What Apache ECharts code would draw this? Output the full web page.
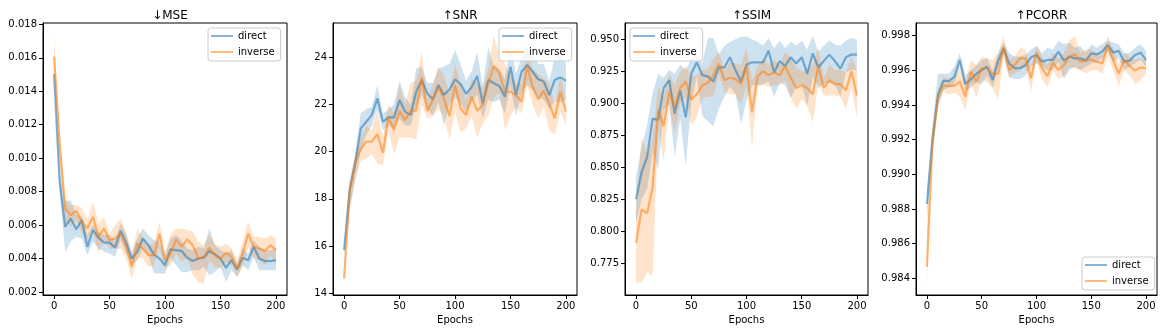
<!DOCTYPE html>
<html>
<head>
<meta charset="utf-8">
<script src="https://cdn.jsdelivr.net/npm/echarts@6/dist/echarts.min.js"></script>
<style>
  body { margin: 0; background: #fff; }
  #chart { width: 1166px; height: 333px; }
</style>
</head>
<body>
<div id="chart"></div>
<script>
const epochs = [0, 5, 10, 15, 20, 25, 30, 35, 40, 45, 50, 55, 60, 65, 70, 75, 80, 85, 90, 95, 100,
  105, 110, 115, 120, 125, 130, 135, 140, 145, 150, 155, 160, 165, 170, 175, 180, 185, 190, 195, 200];
const xTicks = [0, 50, 100, 150, 200];

// MSE
const mseDirect = [0.01503, 0.0086, 0.0059, 0.0064, 0.00575, 0.0063, 0.0047, 0.0057, 0.00525, 0.00495, 0.00495,
  0.00465, 0.00565, 0.00495, 0.0040, 0.0044, 0.0052, 0.0048, 0.00425, 0.0040, 0.0036, 0.00455, 0.0045, 0.00445,
  0.00405, 0.00385, 0.0040, 0.00405, 0.00445, 0.00425, 0.0040, 0.00345, 0.0039, 0.00335, 0.00405, 0.0039, 0.0047,
  0.0040, 0.00385, 0.00385, 0.0039];
const mseDirectLo = [0.0148, 0.0080, 0.0044, 0.0050, 0.0053, 0.0052, 0.0042, 0.0050, 0.0046, 0.0044, 0.0043,
  0.0041, 0.0051, 0.0043, 0.0036, 0.0039, 0.0046, 0.0042, 0.0031, 0.0031, 0.0031, 0.0040, 0.0036, 0.0032, 0.0032,
  0.0033, 0.0033, 0.0035, 0.0030, 0.0032, 0.0035, 0.0026, 0.0033, 0.0029, 0.0036, 0.0033, 0.0041, 0.0033, 0.0033,
  0.0033, 0.0033];
const mseDirectHi = [0.0153, 0.0092, 0.0074, 0.0075, 0.0066, 0.0065, 0.0054, 0.0060, 0.0056, 0.0054, 0.0054,
  0.0051, 0.0061, 0.0055, 0.0044, 0.0052, 0.0058, 0.0054, 0.0051, 0.0050, 0.0042, 0.0052, 0.0054, 0.0051, 0.0046,
  0.0045, 0.0047, 0.0046, 0.0058, 0.0048, 0.0045, 0.0043, 0.0045, 0.0037, 0.0046, 0.0043, 0.0051, 0.0047, 0.0045,
  0.0045, 0.0046];
const mseInverse = [0.01607, 0.0108, 0.0070, 0.0066, 0.00685, 0.0062, 0.0058, 0.0065, 0.0053, 0.0058, 0.0051,
  0.0052, 0.0055, 0.0047, 0.0035, 0.0049, 0.0046, 0.0042, 0.0042, 0.0055, 0.0039, 0.0043, 0.00515, 0.0047, 0.00515,
  0.0048, 0.0040, 0.0041, 0.00465, 0.0042, 0.0040, 0.00435, 0.0041, 0.0034, 0.0043, 0.0055, 0.0047, 0.0046,
  0.00445, 0.0048, 0.0045];
const mseInverseLo = [0.0153, 0.0098, 0.0062, 0.0059, 0.0063, 0.0055, 0.0052, 0.0056, 0.0043, 0.0051, 0.0046,
  0.0046, 0.0046, 0.0040, 0.0028, 0.0040, 0.0040, 0.0035, 0.0036, 0.0046, 0.0034, 0.0036, 0.0043, 0.0038, 0.0041,
  0.0030, 0.0026, 0.0025, 0.0039, 0.0035, 0.0034, 0.0038, 0.0036, 0.0029, 0.0035, 0.0047, 0.0040, 0.0039, 0.0036,
  0.0042, 0.0036];
const mseInverseHi = [0.0173, 0.0118, 0.0076, 0.0072, 0.0072, 0.0070, 0.0063, 0.0074, 0.0061, 0.0065, 0.0055,
  0.0060, 0.0064, 0.0055, 0.0042, 0.0058, 0.0053, 0.0048, 0.0049, 0.0062, 0.0044, 0.0054, 0.0058, 0.0058, 0.0057,
  0.0056, 0.0050, 0.0048, 0.0054, 0.0049, 0.0047, 0.0049, 0.0046, 0.0039, 0.0050, 0.0062, 0.0053, 0.0053, 0.0052,
  0.0054, 0.0052];
const mseTicks = [0.002, 0.004, 0.006, 0.008, 0.010, 0.012, 0.014, 0.016, 0.018];

// SNR
const snrDirect = [15.83, 18.4, 19.5, 20.98, 21.26, 21.55, 22.25, 21.26, 21.45, 21.45, 22.18, 21.69, 21.55,
  22.53, 23.03, 22.46, 22.21, 22.82, 22.39, 22.63, 23.06, 22.86, 22.44, 22.72, 23.2, 22.04, 23.03, 22.89, 22.77,
  22.32, 23.59, 22.39, 23.38, 23.66, 23.38, 23.06, 22.96, 22.39, 23.03, 23.14, 23.0];
const snrDirectLo = [15.6, 17.6, 18.8, 20.0, 20.7, 21.1, 21.8, 20.9, 21.1, 21.0, 21.4, 21.1, 21.1, 21.9, 22.4,
  21.8, 21.5, 22.1, 21.1, 22.0, 22.3, 22.0, 21.7, 22.1, 22.4, 21.4, 22.2, 22.1, 22.2, 21.6, 22.8, 21.5, 22.5, 22.8,
  22.6, 22.3, 22.2, 21.8, 22.1, 22.1, 22.2];
const snrDirectHi = [16.0, 18.8, 19.9, 21.6, 21.8, 21.9, 22.8, 21.6, 21.8, 22.0, 23.0, 22.3, 22.0, 23.5, 23.6,
  22.9, 22.9, 23.5, 23.6, 23.7, 24.3, 23.7, 23.0, 23.4, 24.2, 22.8, 24.4, 23.6, 23.5, 23.1, 24.4, 23.3, 24.0, 24.4,
  24.1, 23.7, 23.7, 23.0, 24.0, 24.3, 23.7];
const snrInverse = [14.63, 18.3, 19.5, 20.1, 20.42, 20.42, 20.74, 19.95, 21.45, 20.91, 21.72, 21.33, 21.73,
  21.73, 23.14, 21.72, 22.18, 22.72, 22.25, 21.5, 22.82, 21.83, 21.55, 22.32, 21.73, 21.97, 22.89, 23.62, 23.31,
  22.53, 22.53, 22.39, 22.11, 23.62, 22.74, 22.21, 22.58, 22.01, 21.41, 22.53, 21.69];
const snrInverseLo = [14.4, 17.5, 18.8, 19.6, 19.7, 19.9, 19.5, 19.4, 20.9, 19.9, 20.6, 20.6, 20.6, 20.5, 22.0,
  21.4, 21.5, 21.8, 21.5, 20.5, 21.7, 20.8, 21.0, 21.5, 20.6, 21.2, 21.5, 22.3, 22.5, 20.9, 21.5, 21.9, 21.6, 22.8,
  22.0, 21.4, 21.9, 20.9, 20.7, 21.7, 21.1];
const snrInverseHi = [14.9, 18.5, 19.8, 20.6, 21.1, 20.9, 21.8, 20.6, 22.0, 21.6, 22.8, 22.0, 22.9, 23.0, 24.2,
  22.2, 22.8, 23.6, 23.2, 22.5, 23.7, 22.9, 22.2, 23.1, 22.9, 22.7, 23.5, 24.9, 24.1, 23.7, 23.2, 22.9, 22.9, 24.3,
  23.5, 23.3, 23.1, 22.9, 22.0, 23.2, 22.2];
const snrTicks = [14, 16, 18, 20, 22, 24];

// SSIM
const ssimDirect = [0.825, 0.846, 0.858, 0.888, 0.887, 0.912, 0.918, 0.892, 0.910, 0.889, 0.923, 0.932, 0.922,
  0.921, 0.917, 0.928, 0.928, 0.936, 0.926, 0.917, 0.930, 0.932, 0.932, 0.932, 0.941, 0.924, 0.933, 0.929, 0.936,
  0.931, 0.936, 0.923, 0.939, 0.928, 0.933, 0.938, 0.933, 0.927, 0.936, 0.938, 0.938];
const ssimDirectLo = [0.806, 0.825, 0.833, 0.862, 0.848, 0.895, 0.899, 0.858, 0.888, 0.851, 0.900, 0.921, 0.890,
  0.886, 0.882, 0.896, 0.905, 0.913, 0.907, 0.884, 0.902, 0.914, 0.914, 0.915, 0.917, 0.905, 0.916, 0.914, 0.904,
  0.913, 0.915, 0.898, 0.921, 0.912, 0.915, 0.916, 0.915, 0.905, 0.924, 0.926, 0.926];
const ssimDirectHi = [0.843, 0.866, 0.883, 0.908, 0.923, 0.920, 0.926, 0.923, 0.930, 0.926, 0.935, 0.939, 0.931,
  0.951, 0.951, 0.938, 0.945, 0.948, 0.950, 0.952, 0.952, 0.950, 0.948, 0.945, 0.951, 0.943, 0.949, 0.943, 0.948,
  0.945, 0.949, 0.942, 0.953, 0.940, 0.945, 0.949, 0.946, 0.945, 0.949, 0.951, 0.950];
const ssimInverse = [0.791, 0.817, 0.814, 0.834, 0.895, 0.882, 0.909, 0.897, 0.912, 0.917, 0.903, 0.907, 0.914,
  0.916, 0.922, 0.931, 0.918, 0.920, 0.919, 0.915, 0.929, 0.893, 0.921, 0.925, 0.922, 0.924, 0.922, 0.929, 0.920,
  0.912, 0.914, 0.912, 0.907, 0.929, 0.912, 0.918, 0.915, 0.915, 0.910, 0.925, 0.906];
const ssimInverseLo = [0.760, 0.760, 0.768, 0.765, 0.880, 0.855, 0.897, 0.876, 0.899, 0.905, 0.883, 0.889, 0.904,
  0.905, 0.905, 0.922, 0.909, 0.907, 0.907, 0.899, 0.914, 0.865, 0.913, 0.914, 0.913, 0.914, 0.914, 0.918, 0.905,
  0.896, 0.903, 0.898, 0.885, 0.915, 0.906, 0.906, 0.906, 0.905, 0.896, 0.912, 0.889];
const ssimInverseHi = [0.815, 0.874, 0.860, 0.874, 0.913, 0.905, 0.923, 0.914, 0.925, 0.929, 0.921, 0.922, 0.926,
  0.927, 0.935, 0.940, 0.926, 0.932, 0.931, 0.930, 0.943, 0.918, 0.929, 0.935, 0.930, 0.934, 0.930, 0.940, 0.935,
  0.928, 0.925, 0.926, 0.930, 0.944, 0.920, 0.930, 0.926, 0.926, 0.924, 0.937, 0.925];
const ssimTicks = [0.775, 0.800, 0.825, 0.850, 0.875, 0.900, 0.925, 0.950];

// PCORR
const pcorrDirect = [0.98829, 0.99198, 0.99458, 0.99540, 0.99538, 0.99563, 0.99660, 0.99521, 0.99548, 0.99579,
  0.99602, 0.99621, 0.99544, 0.99656, 0.99727, 0.99640, 0.99612, 0.99612, 0.99631, 0.99675, 0.99688, 0.99650,
  0.99660, 0.99660, 0.99708, 0.99656, 0.99679, 0.99669, 0.99669, 0.99656, 0.99698, 0.99692, 0.99708, 0.99746,
  0.99702, 0.99713, 0.99650, 0.99656, 0.99688, 0.99702, 0.99660];
const pcorrDirectLo = [0.9874, 0.9912, 0.9938, 0.9949, 0.9950, 0.9952, 0.9962, 0.9948, 0.9950, 0.9953, 0.9952,
  0.9957, 0.9950, 0.9961, 0.9969, 0.9956, 0.9955, 0.9955, 0.9957, 0.9962, 0.9964, 0.9962, 0.9960, 0.9960, 0.9965,
  0.9955, 0.9960, 0.9962, 0.9960, 0.9962, 0.9964, 0.9965, 0.9967, 0.9971, 0.9965, 0.9967, 0.9960, 0.9962, 0.9964,
  0.9966, 0.9962];
const pcorrDirectHi = [0.9891, 0.9928, 0.9958, 0.9958, 0.9958, 0.9962, 0.9970, 0.9957, 0.9960, 0.9963, 0.9966,
  0.9967, 0.9960, 0.9970, 0.9976, 0.9970, 0.9968, 0.9968, 0.9969, 0.9972, 0.9974, 0.9970, 0.9973, 0.9972, 0.9977,
  0.9975, 0.9976, 0.9973, 0.9974, 0.9970, 0.9975, 0.9973, 0.9975, 0.9977, 0.9976, 0.9975, 0.9970, 0.9970, 0.9973,
  0.9975, 0.9971];
const pcorrInverse = [0.98467, 0.99179, 0.99438, 0.99510, 0.99510, 0.99510, 0.99535, 0.99448, 0.99592, 0.99535,
  0.99612, 0.99612, 0.99579, 0.99579, 0.99733, 0.99602, 0.99631, 0.99669, 0.99669, 0.99554, 0.99702, 0.99612,
  0.99567, 0.99644, 0.99602, 0.99631, 0.99679, 0.99694, 0.99650, 0.99656, 0.99663, 0.99650, 0.99640, 0.99740,
  0.99660, 0.99579, 0.99660, 0.99625, 0.99598, 0.99617, 0.99612];
const pcorrInverseLo = [0.9837, 0.9912, 0.9940, 0.9948, 0.9946, 0.9947, 0.9945, 0.9937, 0.9953, 0.9944, 0.9955,
  0.9953, 0.9950, 0.9943, 0.9969, 0.9956, 0.9958, 0.9960, 0.9962, 0.9948, 0.9965, 0.9955, 0.9950, 0.9960, 0.9955,
  0.9957, 0.9962, 0.9961, 0.9960, 0.9958, 0.9960, 0.9960, 0.9958, 0.9968, 0.9960, 0.9951, 0.9960, 0.9957, 0.9952,
  0.9954, 0.9958];
const pcorrInverseHi = [0.9868, 0.9925, 0.9948, 0.9956, 0.9955, 0.9956, 0.9961, 0.9953, 0.9966, 0.9963, 0.9968,
  0.9967, 0.9966, 0.9970, 0.9980, 0.9966, 0.9968, 0.9973, 0.9972, 0.9962, 0.9975, 0.9968, 0.9963, 0.9970, 0.9967,
  0.9970, 0.9977, 0.9980, 0.9970, 0.9972, 0.9972, 0.9970, 0.9969, 0.9980, 0.9972, 0.9964, 0.9970, 0.9968, 0.9966,
  0.9967, 0.9966];
const pcorrTicks = [0.984, 0.986, 0.988, 0.990, 0.992, 0.994, 0.996, 0.998];

const FONT = "DejaVu Sans";
const BLUE = "31,119,180";
const ORANGE = "255,127,14";

// layout of the four matplotlib axes (px)
const panels = [
  { title: "\u2193MSE", left: 43, width: 244, yMin: 0.00182, yMax: 0.01808, ticks: mseTicks, dec: 3,
    d: [mseDirect, mseDirectLo, mseDirectHi], v: [mseInverse, mseInverseLo, mseInverseHi],
    legend: { left: 208, top: 28 } },
  { title: "\u2191SNR", left: 333, width: 244, yMin: 13.93, yMax: 25.44, ticks: snrTicks, dec: 0,
    d: [snrDirect, snrDirectLo, snrDirectHi], v: [snrInverse, snrInverseLo, snrInverseHi],
    legend: { left: 499, top: 28 } },
  { title: "\u2191SSIM", left: 625, width: 243, yMin: 0.7502, yMax: 0.9627, ticks: ssimTicks, dec: 3,
    d: [ssimDirect, ssimDirectLo, ssimDirectHi], v: [ssimInverse, ssimInverseLo, ssimInverseHi],
    legend: { left: 630, top: 28 } },
  { title: "\u2191PCORR", left: 916, width: 241, yMin: 0.98304, yMax: 0.99873, ticks: pcorrTicks, dec: 3,
    d: [pcorrDirect, pcorrDirectLo, pcorrDirectHi], v: [pcorrInverse, pcorrInverseLo, pcorrInverseHi],
    legend: { left: 1082, top: 257 } },
];

const grid = [], xAxis = [], yAxis = [], title = [], legend = [], series = [];

// confidence band as a polygon: upper edge left->right, lower edge right->left
const addSeries = (i, name, rgb, arr) => {
  const [mean, lo, hi] = arr;
  series.push({
    type: "custom", name: name + " band", xAxisIndex: i, yAxisIndex: i, silent: true,
    data: [[epochs[0], lo[0]]],
    renderItem: (params, api) => {
      const pts = [];
      epochs.forEach((e, k) => pts.push(api.coord([e, hi[k]])));
      for (let k = epochs.length - 1; k >= 0; k--) pts.push(api.coord([epochs[k], lo[k]]));
      return { type: "polygon", shape: { points: pts }, style: { fill: "rgba(" + rgb + ",0.22)" } };
    }
  });
  series.push({
    type: "line", name: name, xAxisIndex: i, yAxisIndex: i,
    data: epochs.map((e, k) => [e, mean[k]]),
    symbol: "none", showSymbol: false, silent: true,
    itemStyle: { color: "rgba(" + rgb + ",0.55)" },
    lineStyle: { color: "rgba(" + rgb + ",0.55)", width: 2.2 }
  });
};

panels.forEach((p, i) => {
  grid.push({ left: p.left, top: 23, width: p.width, height: 272, show: true,
    borderColor: "#000", borderWidth: 1, backgroundColor: "transparent" });
  xAxis.push({
    type: "value", gridIndex: i, min: -10, max: 210,
    name: "Epochs", nameLocation: "middle", nameGap: 19,
    nameTextStyle: { fontFamily: FONT, fontSize: 10, color: "#000" },
    axisLine: { onZero: false, lineStyle: { color: "#000", width: 1 } },
    axisTick: { show: true, length: 4, customValues: xTicks, lineStyle: { color: "#000" } },
    axisLabel: { customValues: xTicks, margin: 6, fontFamily: FONT, fontSize: 10, color: "#000" },
    splitLine: { show: false }
  });
  yAxis.push({
    type: "value", gridIndex: i, min: p.yMin, max: p.yMax,
    axisLine: { show: true, onZero: false, lineStyle: { color: "#000", width: 1 } },
    axisTick: { show: true, length: 4, customValues: p.ticks, lineStyle: { color: "#000" } },
    axisLabel: { customValues: p.ticks, margin: 6, fontFamily: FONT, fontSize: 10, color: "#000",
      formatter: (v) => v.toFixed(p.dec) },
    splitLine: { show: false }
  });
  title.push({
    text: p.title, left: p.left + p.width / 2, top: 5, textAlign: "center",
    textStyle: { fontFamily: FONT, fontSize: 12, fontWeight: "normal", color: "#000" }
  });
  legend.push({
    data: ["direct", "inverse"], orient: "vertical", left: p.legend.left, top: p.legend.top,
    icon: "rect", itemWidth: 22, itemHeight: 2, itemGap: 4, padding: [2, 6, 3, 3],
    backgroundColor: "rgba(255,255,255,0.8)", borderColor: "#cccccc", borderWidth: 1, borderRadius: 3,
    selectedMode: false,
    textStyle: { fontFamily: FONT, fontSize: 10, lineHeight: 12, color: "#000" }
  });
  addSeries(i, "direct", BLUE, p.d);
  addSeries(i, "inverse", ORANGE, p.v);
});

const chart = echarts.init(document.getElementById("chart"), null, { renderer: "canvas" });
chart.setOption({
  animation: false,
  backgroundColor: "#fff",
  title: title,
  legend: legend,
  grid: grid,
  xAxis: xAxis,
  yAxis: yAxis,
  series: series
});
</script>
</body>
</html>
